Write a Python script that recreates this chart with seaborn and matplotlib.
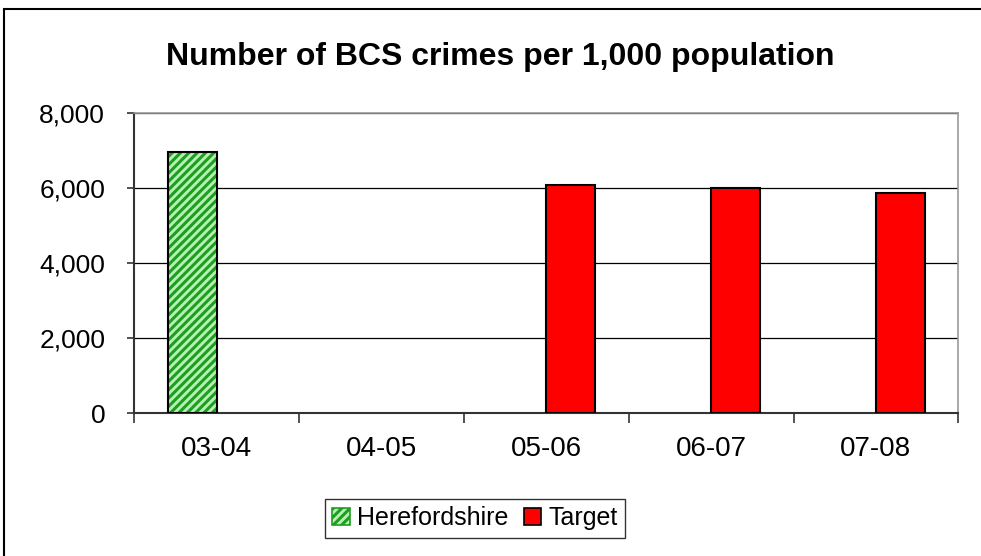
import numpy as np
import pandas as pd
import matplotlib
matplotlib.use("Agg")
import matplotlib.pyplot as plt
import seaborn as sns
from matplotlib.patches import Rectangle, Patch

categories = ["03-04", "04-05", "05-06", "06-07", "07-08"]
herefordshire = [6955, np.nan, np.nan, np.nan, np.nan]
target = [np.nan, np.nan, 6090, 6000, 5880]
series_names = ["Herefordshire", "Target"]
yticks = [0, 2000, 4000, 6000, 8000]
ytick_labels = ["0", "2,000", "4,000", "6,000", "8,000"]
title = "Number of BCS crimes per 1,000 population"

rows = []
for c, h, t in zip(categories, herefordshire, target):
    if not np.isnan(h):
        rows.append({"Year": c, "Series": series_names[0], "Value": h})
    if not np.isnan(t):
        rows.append({"Year": c, "Series": series_names[1], "Value": t})
df = pd.DataFrame(rows)

sns.set_theme(style="white")
plt.rcParams["font.family"] = ["Liberation Sans", "DejaVu Sans"]
plt.rcParams["hatch.linewidth"] = 2.2
plt.rcParams["text.color"] = "black"

GREEN_FACE = "#b6f2b6"
GREEN_HATCH = "#1f9e1f"
RED = "#ff0000"

fig = plt.figure(figsize=(9.81, 5.56), dpi=100)
ax = fig.add_axes([134.3 / 981, 1 - 413.3 / 556, (958.3 - 134.3) / 981, (413.3 - 113.3) / 556])

sns.barplot(data=df, x="Year", y="Value", hue="Series", order=categories,
            hue_order=series_names, palette=[GREEN_FACE, RED], width=0.59,
            dodge=True, gap=0,
            errorbar=None, ax=ax, legend=False, edgecolor="black", linewidth=1.5,
            saturation=1, zorder=3)

# style the Herefordshire patches with hatch
green_patches = ax.containers[0]
for p in green_patches:
    if np.isnan(p.get_height()) or p.get_height() == 0:
        continue
    x0, y0 = p.get_x(), p.get_y()
    w, h = p.get_width(), p.get_height()
    p.set_facecolor(GREEN_FACE)
    p.set_edgecolor(GREEN_HATCH)
    p.set_hatch("////")
    p.set_linewidth(0)
    ax.add_patch(Rectangle((x0, y0), w, h, fill=False, edgecolor="black",
                           linewidth=1.5, zorder=4))

ax.set_xlim(-0.5, len(categories) - 0.5)
ax.set_ylim(0, 8000)
ax.set_yticks(yticks)
ax.set_yticklabels(ytick_labels, fontsize=19)
ax.set_xticks(range(len(categories)))
ax.set_xticklabels(categories, fontsize=20)
ax.set_xlabel("")
ax.set_ylabel("")

ax.yaxis.grid(True, color="black", linewidth=0.9, zorder=0)
ax.set_axisbelow(True)

# category boundary ticks on x-axis
ax.set_xticks(np.arange(-0.5, len(categories), 1.0), minor=True)
ax.tick_params(axis="x", which="minor", length=7, width=1.2, color="#333333", direction="out", bottom=True)
ax.tick_params(axis="x", which="major", length=0, pad=16, labelcolor="black")
ax.tick_params(axis="y", which="major", length=5, width=1.2, color="#333333", direction="out",
               left=True, pad=16, labelcolor="black")

for s in ["left", "bottom"]:
    ax.spines[s].set_color("#333333")
    ax.spines[s].set_linewidth(1.5)
for s in ["top", "right"]:
    ax.spines[s].set_color("#999999")
    ax.spines[s].set_linewidth(1.2)

fig.text(500 / 981, 1 - 57 / 556, title, ha="center", va="center",
         fontsize=23, fontweight="bold", color="black")

# legend
handles = [Patch(facecolor=GREEN_FACE, edgecolor="black", hatch="////", linewidth=1.2),
           Patch(facecolor=RED, edgecolor="black", linewidth=1.2)]
leg = fig.legend(handles, series_names, loc="center",
                 bbox_to_anchor=(475 / 981, 1 - 518 / 556), ncol=2, fontsize=18,
                 frameon=True, fancybox=False, edgecolor="black",
                 handlelength=0.7, handleheight=0.7, handletextpad=0.3,
                 columnspacing=0.6, borderpad=0.3, borderaxespad=0, labelcolor="black")
leg.get_frame().set_linewidth(1.0)
for hp in leg.legend_handles[:1]:
    hp.set_edgecolor(GREEN_HATCH)

# outer chart border
fig.patches.append(Rectangle((4 / 981, -0.05), 1.2, 1 - 9 / 556 + 0.05, transform=fig.transFigure,
                             fill=False, edgecolor="black", linewidth=1.5))

fig.savefig("out.png", dpi=100)
